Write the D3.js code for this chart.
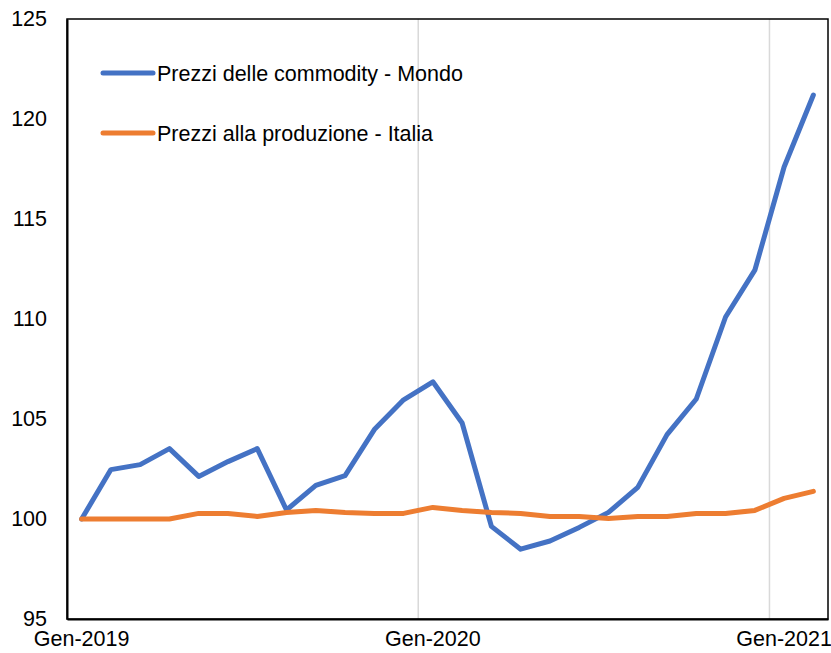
<!DOCTYPE html>
<html>
<head>
<meta charset="utf-8">
<script src="https://cdnjs.cloudflare.com/ajax/libs/d3/7.8.5/d3.min.js"></script>
<style>
  body { margin: 0; background: #fff; }
  svg { display: block; }
</style>
</head>
<body>
<svg id="chart"></svg>
<script>
// ---- data ----
const months = [
  "Gen-2019", "Feb-2019", "Mar-2019", "Apr-2019", "Mag-2019", "Giu-2019",
  "Lug-2019", "Ago-2019", "Set-2019", "Ott-2019", "Nov-2019", "Dic-2019",
  "Gen-2020", "Feb-2020", "Mar-2020", "Apr-2020", "Mag-2020", "Giu-2020",
  "Lug-2020", "Ago-2020", "Set-2020", "Ott-2020", "Nov-2020", "Dic-2020",
  "Gen-2021", "Feb-2021"
];
const commodityWorld = [
  100.0, 102.47, 102.72, 103.52, 102.13, 102.87, 103.52, 100.45, 101.68, 102.17,
  104.47, 105.96, 106.86, 104.8, 99.63, 98.49, 98.9, 99.58, 100.33, 101.58,
  104.22, 106.0, 110.1, 112.44, 117.6, 121.2
];
const producerItaly = [
  100.0, 100.0, 100.0, 100.0, 100.28, 100.28, 100.13, 100.33, 100.43, 100.33,
  100.28, 100.28, 100.58, 100.43, 100.33, 100.28, 100.13, 100.13, 100.03, 100.13,
  100.13, 100.28, 100.28, 100.43, 101.03, 101.38
];
const seriesNames = ["Prezzi delle commodity - Mondo", "Prezzi alla produzione - Italia"];
const seriesColors = ["#4472C4", "#ED7D31"];
const xTickLabels = ["Gen-2019", "Gen-2020", "Gen-2021"];
const yTicks = [95, 100, 105, 110, 115, 120, 125];

// ---- layout ----
const width = 831, height = 653;
const plot = { left: 67, right: 828, top: 19, bottom: 619 };
const font = "Arial, 'Liberation Sans', sans-serif";
const fontSize = "21.5px";

const svg = d3.select("#chart").attr("width", width).attr("height", height)
  .style("font-family", font);

const x = d3.scaleBand().domain(months).range([plot.left, plot.right]).padding(0);
const xc = (m) => x(m) + x.bandwidth() / 2;
const y = d3.scaleLinear().domain([95, 125]).range([plot.bottom, plot.top]);

// vertical gridlines at category boundaries of the labelled months (not the first)
svg.append("g")
  .selectAll("line")
  .data(xTickLabels.slice(1))
  .enter()
  .append("line")
  .attr("x1", (d) => x(d))
  .attr("x2", (d) => x(d))
  .attr("y1", plot.top)
  .attr("y2", plot.bottom)
  .attr("stroke", "#D9D9D9")
  .attr("stroke-width", 1.5);

// plot frame
svg.append("rect")
  .attr("x", plot.left)
  .attr("y", plot.top)
  .attr("width", plot.right - plot.left)
  .attr("height", plot.bottom - plot.top)
  .attr("fill", "none")
  .attr("stroke", "#000")
  .attr("stroke-width", 1.5);

// Y axis
const yAxis = d3.axisLeft(y).tickValues(yTicks).tickSize(0).tickPadding(20);
const gy = svg.append("g").attr("transform", `translate(${plot.left},0)`).call(yAxis);
gy.select(".domain").attr("stroke", "#000").attr("stroke-width", 2);
gy.selectAll("text").style("font-size", fontSize).style("font-family", font).attr("fill", "#000");

// X axis (labels kept just inside the bottom edge)
const xAxis = d3.axisBottom(x).tickValues(xTickLabels).tickSize(0).tickPadding(12);
const gx = svg.append("g").attr("transform", `translate(0,${plot.bottom})`).call(xAxis);
gx.select(".domain").attr("stroke", "#000").attr("stroke-width", 2);
gx.selectAll("text").style("font-size", fontSize).style("font-family", font).attr("fill", "#000");

// lines
const line = d3.line()
  .x((d, i) => xc(months[i]))
  .y((d) => y(d));

[commodityWorld, producerItaly].forEach((vals, k) => {
  svg.append("path")
    .datum(vals)
    .attr("d", line)
    .attr("fill", "none")
    .attr("stroke", seriesColors[k])
    .attr("stroke-width", 5)
    .attr("stroke-linejoin", "round")
    .attr("stroke-linecap", "round");
});

// legend
const legend = svg.append("g")
  .selectAll("g")
  .data(seriesNames)
  .enter()
  .append("g")
  .attr("transform", (d, i) => `translate(103, ${73 + i * 60})`);

legend.append("line")
  .attr("x1", 0)
  .attr("x2", 50)
  .attr("stroke", (d, i) => seriesColors[i])
  .attr("stroke-width", 5)
  .attr("stroke-linecap", "round");

legend.append("text")
  .attr("x", 54)
  .attr("y", 7.5)
  .style("font-size", fontSize)
  .attr("fill", "#000")
  .text((d) => d);
</script>
</body>
</html>
